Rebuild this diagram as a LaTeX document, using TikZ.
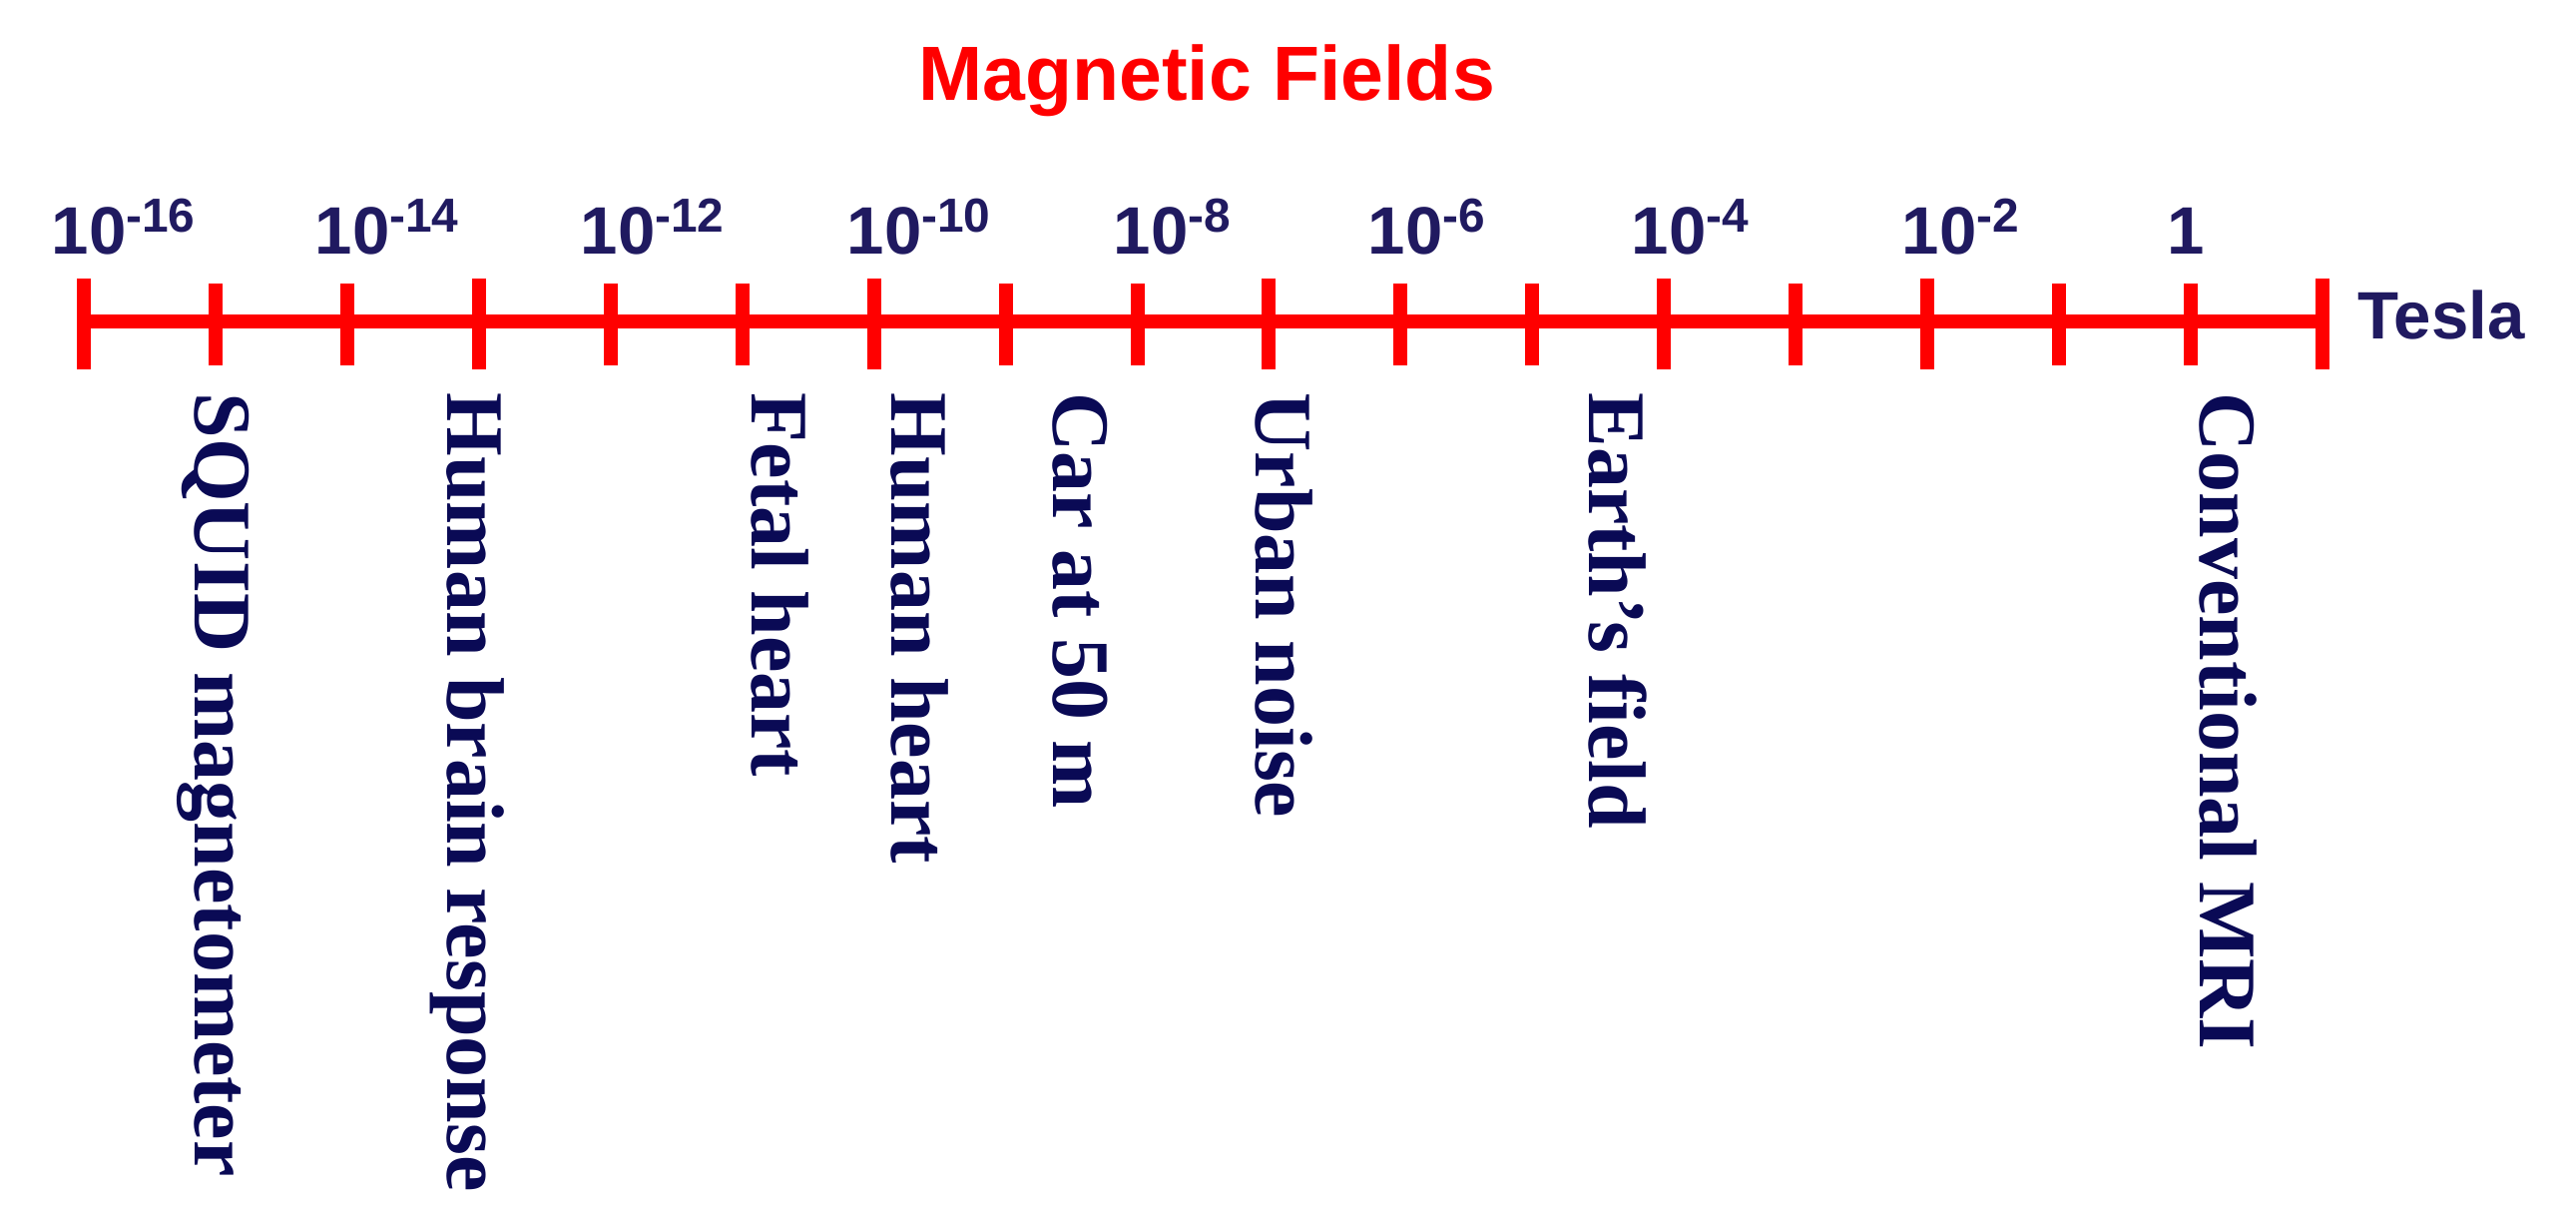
\documentclass[tikz,border=0pt]{standalone}
\usepackage{fontspec}
\setmainfont{Liberation Serif}
\setsansfont{Liberation Sans}
\definecolor{axisred}{RGB}{255,0,0}
\definecolor{ticknavy}{RGB}{32,26,96}
\definecolor{labnavy}{RGB}{10,10,85}
\newcommand{\tenpow}[1]{10\raisebox{0.22cm}{\fontsize{13.6}{15}\selectfont -#1}}
\tikzset{
  axisline/.style={draw=axisred, line width=0.14cm},
  ticklab/.style={inner sep=0pt, anchor=base west, text=ticknavy, font=\sffamily\bfseries\fontsize{19.1}{22}\selectfont},
  itemlab/.style={inner sep=0pt, anchor=base west, rotate=-90, text=labnavy, font=\rmfamily\bfseries\fontsize{23.3}{27}\selectfont},
  titlelab/.style={inner sep=0pt, anchor=base, text=axisred, font=\sffamily\bfseries\fontsize{21.9}{26}\selectfont}
}
\begin{document}
\begin{tikzpicture}[x=0.01cm,y=-0.01cm]
\fill[white] (0,0) rectangle (2581,1210);
\useasboundingbox (0,0) rectangle (2581,1210);
% title
\node[titlelab] (title) at (1209,101) {Magnetic Fields};
% axis
\coordinate (a0) at (84,322);
\coordinate (a17) at (2327,322);
\draw[axisline] (a0) -- (a17);
\foreach \i in {0,...,17}{
  \pgfmathsetmacro{\tx}{84+131.94*\i}
  \coordinate (t\i) at (\tx,322);
}
\foreach \i in {0,3,6,9,12,14,17}{
  \draw[axisline] ([yshift=0.43cm]t\i) -- ([yshift=-0.48cm]t\i);
}
\foreach \i in {1,2,4,5,7,8,10,11,13,15,16}{
  \draw[axisline] ([yshift=0.38cm]t\i) -- ([yshift=-0.44cm]t\i);
}
% tick labels
\node[ticklab] (l0) at (84-33,255) {\tenpow{16}};
\node[ticklab] (l2) at (348-33,255) {\tenpow{14}};
\node[ticklab] (l4) at (612-31,255) {\tenpow{12}};
\node[ticklab] (l6) at (877-29,255) {\tenpow{10}};
\node[ticklab] (l8) at (1140-25,255) {\tenpow{8}};
\node[ticklab] (l10) at (1403-33,255) {\tenpow{6}};
\node[ticklab] (l12) at (1668-34,255) {\tenpow{4}};
\node[ticklab] (l14) at (1932-27,255) {\tenpow{2}};
\node[ticklab, anchor=base] (l16) at (2190,255) {1};
\node[ticklab] (unit) at (2362,340) {Tesla};
% item labels
\node[itemlab] (squid) at (195,393) {SQUID magnetometer};
\node[itemlab] (brain) at (448,393) {Human brain response};
\node[itemlab] (fetal) at (753,393) {Fetal heart};
\node[itemlab] (heart) at (893,393) {Human heart};
\node[itemlab] (car) at (1055,393) {Car at 50 m};
\node[itemlab] (urban) at (1258,393) {Urban noise};
\node[itemlab] (earth) at (1592,393) {Earth’s field};
\node[itemlab] (mri) at (2204,393) {Conventional MRI};
\end{tikzpicture}
\end{document}
